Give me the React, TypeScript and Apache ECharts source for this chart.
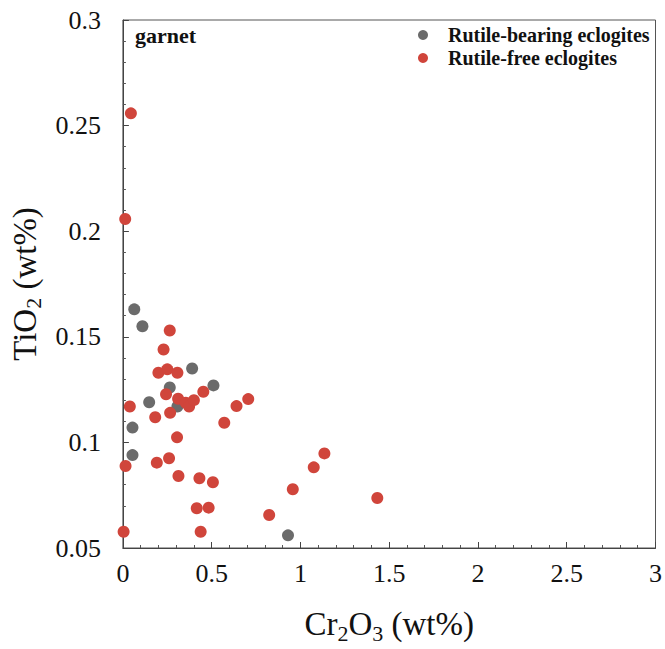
import React, { useEffect, useRef } from "react";
import * as echarts from "echarts";

// Cr2O3 (wt%), TiO2 (wt%)
const rutileBearingX = [0.064, 0.11, 0.39, 0.264, 0.51, 0.148, 0.307, 0.054, 0.054, 0.93];
const rutileBearingY = [0.163, 0.155, 0.135, 0.126, 0.127, 0.119, 0.117, 0.107, 0.094, 0.056];

const rutileFreeX = [
  0.045, 0.013, 0.264, 0.229, 0.2, 0.25, 0.307, 0.453, 0.243, 0.311, 0.354, 0.373, 0.4,
  0.039, 0.266, 0.182, 0.64, 0.706, 0.571, 0.305, 0.015, 0.191, 0.26, 0.313, 0.431,
  0.507, 0.416, 0.483, 0.438, 0.004, 0.824, 0.957, 1.075, 1.135, 1.433,
];
const rutileFreeY = [
  0.2558, 0.2058, 0.153, 0.144, 0.133, 0.1346, 0.133, 0.124, 0.1228, 0.1207, 0.1188, 0.117, 0.12,
  0.117, 0.114, 0.1119, 0.1172, 0.1205, 0.1093, 0.1024, 0.0888, 0.0904, 0.0925, 0.0841, 0.083,
  0.0811, 0.0688, 0.0691, 0.0577, 0.0577, 0.0656, 0.0778, 0.0882, 0.0948, 0.0737,
];

const xTicks = { min: 0, max: 3, interval: 0.5 };
const yTicks = { min: 0.05, max: 0.3, interval: 0.05 };

const SERIF = "serif";

export default function App() {
  const ref = useRef<HTMLDivElement>(null);
  useEffect(() => {
    if (!ref.current) return;
    const chart = echarts.init(ref.current, undefined, { renderer: "svg" });
    const pair = (xs: number[], ys: number[]) => xs.map((x, i) => [x, ys[i]]);
    const axisCommon = {
      axisLine: { show: true, lineStyle: { color: "#444", width: 1 } },
      axisTick: { show: true, inside: true, length: 6, lineStyle: { color: "#444" } },
      minorTick: { show: true, splitNumber: 5, length: 3, lineStyle: { color: "#555" } },
      splitLine: { show: false },
      minorSplitLine: { show: false },
    };
    const rich = {
      a: { fontFamily: SERIF, fontSize: 33, color: "#111", lineHeight: 40 },
      s: { fontFamily: SERIF, fontSize: 22, color: "#111", lineHeight: 20, verticalAlign: "bottom" },
    };
    chart.setOption({
      animation: false,
      backgroundColor: "#ffffff",
      textStyle: { fontFamily: SERIF },
      grid: {
        left: 122,
        right: 9,
        top: 20,
        bottom: 101,
        show: true,
        borderColor: "#555",
        borderWidth: 1,
        backgroundColor: "transparent",
      },
      legend: {
        orient: "vertical",
        left: 418,
        top: 24,
        padding: 0,
        itemWidth: 10,
        itemHeight: 10,
        itemGap: 1,
        icon: "circle",
        textStyle: {
          fontFamily: SERIF,
          fontSize: 20,
          fontWeight: "bold",
          color: "#111",
          lineHeight: 22,
          padding: [0, 0, 0, 15],
        },
        data: ["Rutile-bearing eclogites", "Rutile-free eclogites"],
      },
      xAxis: {
        type: "value",
        ...xTicks,
        ...axisCommon,
        axisLabel: { fontFamily: SERIF, fontSize: 26, color: "#111", margin: 12 },
        name: "{a|Cr}{s|2}{a|O}{s|3}{a| (wt%)}",
        nameLocation: "middle",
        nameGap: 56,
        nameTextStyle: { rich },
      },
      yAxis: {
        type: "value",
        ...yTicks,
        ...axisCommon,
        axisLabel: { fontFamily: SERIF, fontSize: 26, color: "#111", margin: 22 },
        name: "{a|TiO}{s|2}{a| (wt%)}",
        nameLocation: "middle",
        nameGap: 74,
        nameTextStyle: { rich },
      },
      graphic: [
        {
          type: "text",
          left: 135,
          top: 24,
          style: { text: "garnet", font: `bold 22px ${SERIF}`, fill: "#111" },
        },
      ],
      series: [
        {
          name: "Rutile-bearing eclogites",
          type: "scatter",
          symbol: "circle",
          symbolSize: 12,
          itemStyle: { color: "#6b6b6b", opacity: 1 },
          data: pair(rutileBearingX, rutileBearingY),
        },
        {
          name: "Rutile-free eclogites",
          type: "scatter",
          symbol: "circle",
          symbolSize: 12,
          itemStyle: { color: "#d0453b", opacity: 1 },
          data: pair(rutileFreeX, rutileFreeY),
        },
      ],
    });
    return () => chart.dispose();
  }, []);
  return <div ref={ref} style={{ width: 665, height: 649, position: "absolute", left: 0, top: 0 }} />;
}
